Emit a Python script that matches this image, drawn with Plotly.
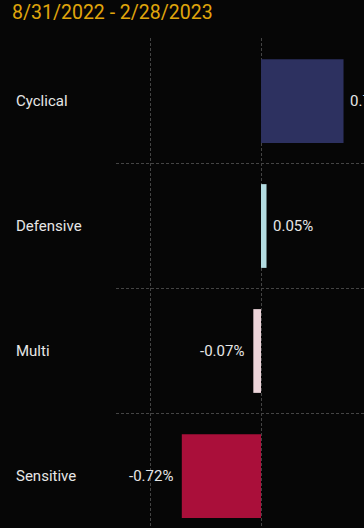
import plotly.graph_objects as go

# Period shown in the header
period = "8/31/2022 - 2/28/2023"

# Relative contribution by group (%)
groups = ["Cyclical", "Defensive", "Multi", "Sensitive"]
values = [0.75, 0.05, -0.07, -0.72]
colors = ["#2D3160", "#B3DCE1", "#EDD5DA", "#AA0F3A"]
value_labels = ["0.75%", "0.05%", "-0.07%", "-0.72%"]

positions = list(range(len(groups)))
grid_color = "#444444"
bg = "#060606"

fig = go.Figure()
fig.add_trace(go.Bar(
    x=values,
    y=positions,
    orientation="h",
    width=0.67,
    marker=dict(color=colors, line=dict(width=0)),
    hoverinfo="skip",
))

annotations = []
# group names, left aligned in the left margin
for p, g in zip(positions, groups):
    annotations.append(dict(
        x=-0.411, xref="paper", y=p, yref="y",
        text=g, showarrow=False, xanchor="left", yanchor="middle",
        font=dict(family="Roboto", size=15, color="#E6E6E6"),
    ))
# value labels just outside each bar end
for p, v, t in zip(positions, values, value_labels):
    annotations.append(dict(
        x=v, xref="x", y=p, yref="y",
        text=t, showarrow=False,
        xanchor="left" if v >= 0 else "right", yanchor="middle",
        xshift=4 if v >= 0 else -7,
        font=dict(family="Roboto", size=15, color="#E6E6E6"),
    ))

fig.update_layout(
    width=364,
    height=528,
    margin=dict(l=116, r=0, t=38, b=0),
    paper_bgcolor=bg,
    plot_bgcolor=bg,
    showlegend=False,
    title=dict(
        text=period,
        x=12 / 364, xref="container", xanchor="left",
        y=1 - 12 / 528, yref="container", yanchor="middle",
        font=dict(family="Roboto", size=19.5, color="#E0A60C"),
    ),
    xaxis=dict(
        range=[-1.318, 0.936],
        tickvals=[-1, 0, 1],
        showticklabels=False,
        showgrid=True,
        gridcolor=grid_color,
        griddash="3px,2px",
        gridwidth=1,
        zeroline=False,
        showline=False,
        fixedrange=True,
    ),
    yaxis=dict(
        range=[3.416, -0.504],
        tickvals=positions,
        showticklabels=False,
        showgrid=False,
        zeroline=False,
        showline=False,
        minor=dict(
            tickmode="linear", tick0=0.5, dtick=1,
            showgrid=True, gridcolor=grid_color, griddash="3px,2px", gridwidth=1,
            ticklen=0,
        ),
        fixedrange=True,
    ),
    annotations=annotations,
)

fig.write_html("out.html")
